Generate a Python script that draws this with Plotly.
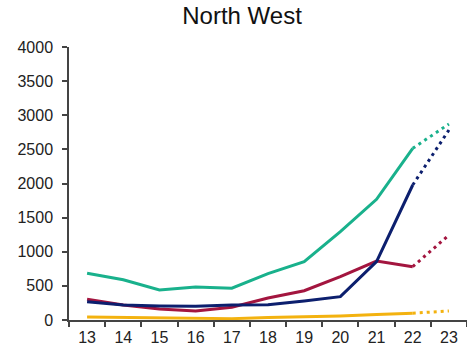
import plotly.graph_objects as go

years = ["13", "14", "15", "16", "17", "18", "19", "20", "21", "22", "23"]
teal_vals = [684, 590, 440, 485, 465, 680, 855, 1294, 1768, 2515, 2872]
navy_vals = [268, 220, 205, 200, 220, 225, 278, 342, 855, 1978, 2784]
crimson_vals = [303, 220, 161, 132, 186, 322, 429, 634, 864, 781, 1245]
gold_vals = [45, 40, 30, 25, 20, 35, 45, 60, 80, 100, 132]

series = [
    ("Teal", teal_vals, "#19B18C"),
    ("Crimson", crimson_vals, "#A3153F"),
    ("Navy", navy_vals, "#0C1F6E"),
    ("Gold", gold_vals, "#F3B20F"),
]

fig = go.Figure()
for name, vals, color in series:
    fig.add_trace(go.Scatter(x=years[:10], y=vals[:10], mode="lines", name=name,
                             line=dict(color=color, width=3), showlegend=False))
    fig.add_trace(go.Scatter(x=years[9:], y=vals[9:], mode="lines", name=name + " (proj)",
                             line=dict(color=color, width=3, dash="3px,4px"), showlegend=False))

fig.update_layout(
    width=467, height=357,
    margin=dict(l=69, r=0, t=47, b=37, autoexpand=False),
    paper_bgcolor="white", plot_bgcolor="white",
    font=dict(family="Liberation Sans, Arial, sans-serif", size=16, color="#222222"),
    title=dict(text="North West", x=242 / 467, xanchor="center", y=1 - 16 / 357, yanchor="middle",
               font=dict(size=24, color="#111111")),
    xaxis=dict(type="category", range=[-0.5, 10.5], showgrid=False, showline=True,
               linecolor="#444444", linewidth=1.5, ticks="outside", tickson="boundaries",
               ticklen=5, tickcolor="#444444", tickwidth=1.5, zeroline=False,
               ticklabelstandoff=2),
    yaxis=dict(range=[0, 4000], dtick=500, showgrid=False, showline=True,
               linecolor="#444444", linewidth=1.5, ticks="outside", ticklen=5,
               tickcolor="#444444", tickwidth=1.5, zeroline=False,
               ticklabelstandoff=6),
)

fig.write_html("out.html", config={"displayModeBar": False},
               post_script="document.body.style.margin='0';")
